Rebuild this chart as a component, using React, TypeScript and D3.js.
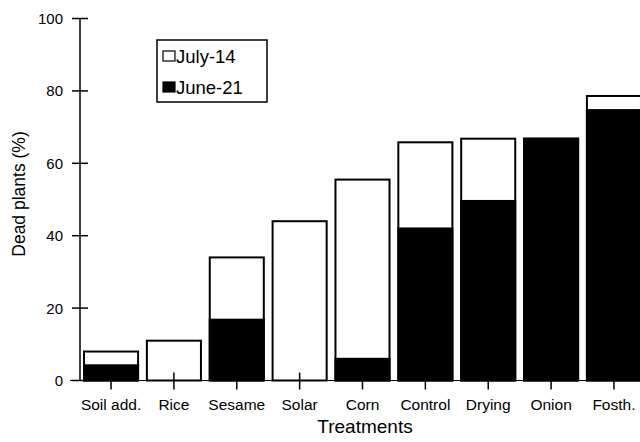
import React from "react";
import * as d3 from "d3";

const categories = ["Soil add.", "Rice", "Sesame", "Solar", "Corn", "Control", "Drying", "Onion", "Fosth."];
const july14 = [8, 11, 34, 44, 55.5, 65.8, 66.8, 66.8, 78.6];
const june21 = [4.2, 0, 16.8, 0, 6, 42, 49.6, 66.8, 74.7];
const yTicks = [0, 20, 40, 60, 80, 100];
const legendLabels = ["July-14", "June-21"];

const W = 640;
const H = 442;
const FONT = "'Liberation Sans', Arial, Helvetica, sans-serif";

export default function App() {
  const x = d3
    .scaleBand<string>()
    .domain(categories)
    .range([80, 645])
    .paddingInner(0.14)
    .paddingOuter(0.064);
  const y = d3.scaleLinear().domain([0, 100]).range([380.5, 18.5]);
  const bw = x.bandwidth();

  return (
    <svg
      width={W}
      height={H}
      style={{ position: "absolute", left: 0, top: 0, background: "#fff" }}
      fontFamily={FONT}
    >
      <rect x={0} y={0} width={W} height={H} fill="#fff" />
      {/* baseline */}
      <line x1={70} x2={W} y1={y(0)} y2={y(0)} stroke="#000" strokeWidth={1} />
      {/* bars: July-14 (white, total) */}
      {categories.map((c, i) => (
        <rect
          key={"j" + c}
          x={x(c)!}
          y={y(july14[i])}
          width={bw}
          height={y(0) - y(july14[i])}
          fill="#fff"
          stroke="#000"
          strokeWidth={2}
        />
      ))}
      {/* bars: June-21 (black) */}
      {categories.map((c, i) =>
        june21[i] > 0 ? (
          <rect
            key={"u" + c}
            x={x(c)!}
            y={y(june21[i])}
            width={bw}
            height={y(0) - y(june21[i])}
            fill="#000"
            stroke="#000"
            strokeWidth={2}
          />
        ) : null
      )}
      {/* x ticks */}
      {categories.map((c) => {
        const cx = x(c)! + bw / 2;
        return (
          <g key={"t" + c}>
            <line x1={cx} x2={cx} y1={y(0) - 8} y2={y(0) + 9} stroke="#000" strokeWidth={1.5} />
            <text x={cx} y={409.5} textAnchor="middle" fontSize={15.5} fill="#000">
              {c}
            </text>
          </g>
        );
      })}
      {/* y axis */}
      <line x1={80} x2={80} y1={y(100)} y2={y(0)} stroke="#000" strokeWidth={1.5} />
      {yTicks.map((t) => (
        <g key={"y" + t}>
          <line x1={72} x2={88} y1={y(t)} y2={y(t)} stroke="#000" strokeWidth={1.5} />
          <text x={63} y={y(t)} dy="0.36em" textAnchor="end" fontSize={15} fill="#000">
            {t}
          </text>
        </g>
      ))}
      {/* axis titles */}
      <text x={365} y={433} textAnchor="middle" fontSize={19} fill="#000">
        Treatments
      </text>
      <text
        transform={`translate(25, 194) rotate(-90)`}
        textAnchor="middle"
        fontSize={17.5}
        fill="#000"
      >
        Dead plants (%)
      </text>
      {/* legend */}
      <rect x={157} y={40} width={110} height={62} fill="#fff" stroke="#000" strokeWidth={1.5} />
      {legendLabels.map((l, i) => (
        <g key={"l" + l}>
          <rect
            x={163}
            y={51 + i * 31}
            width={12}
            height={10}
            fill={i === 0 ? "#fff" : "#000"}
            stroke="#000"
            strokeWidth={1.2}
          />
          <text x={176} y={56 + i * 31} dy="0.36em" fontSize={18.5} fill="#000">
            {l}
          </text>
        </g>
      ))}
    </svg>
  );
}
